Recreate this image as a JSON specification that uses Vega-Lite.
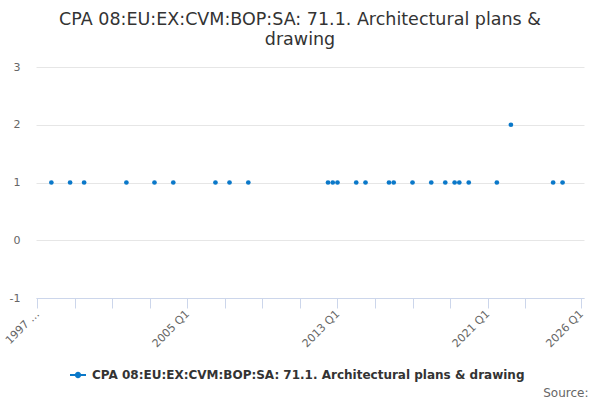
{
  "$schema": "https://vega.github.io/schema/vega-lite/v6.json",
  "autosize": {"type": "none"},
  "width": 548,
  "height": 231,
  "padding": {"left": 36, "top": 67, "right": 16, "bottom": 102},
  "background": "#ffffff",
  "title": {
    "text": ["CPA 08:EU:EX:CVM:BOP:SA: 71.1. Architectural plans &", "drawing"],
    "anchor": "middle",
    "frame": "group",
    "dx": -10,
    "offset": 13,
    "fontSize": 17.5,
    "fontWeight": "normal",
    "font": "DejaVu Sans",
    "color": "#333333",
    "lineHeight": 20
  },
  "data": {
    "values": [
      {"date": "1997-10-01", "value": 1},
      {"date": "1998-10-01", "value": 1},
      {"date": "1999-07-01", "value": 1},
      {"date": "2001-10-01", "value": 1},
      {"date": "2003-04-01", "value": 1},
      {"date": "2004-04-01", "value": 1},
      {"date": "2006-07-01", "value": 1},
      {"date": "2007-04-01", "value": 1},
      {"date": "2008-04-01", "value": 1},
      {"date": "2012-07-01", "value": 1},
      {"date": "2012-10-01", "value": 1},
      {"date": "2013-01-01", "value": 1},
      {"date": "2014-01-01", "value": 1},
      {"date": "2014-07-01", "value": 1},
      {"date": "2015-10-01", "value": 1},
      {"date": "2016-01-01", "value": 1},
      {"date": "2017-01-01", "value": 1},
      {"date": "2018-01-01", "value": 1},
      {"date": "2018-10-01", "value": 1},
      {"date": "2019-04-01", "value": 1},
      {"date": "2019-07-01", "value": 1},
      {"date": "2020-01-01", "value": 1},
      {"date": "2021-07-01", "value": 1},
      {"date": "2022-04-01", "value": 2},
      {"date": "2024-07-01", "value": 1},
      {"date": "2025-01-01", "value": 1}
    ]
  },
  "mark": {"type": "point", "filled": true, "opacity": 1, "size": 22, "shape": "circle"},
  "encoding": {
    "x": {
      "field": "date",
      "type": "temporal",
      "scale": {
        "domain": [
          {"year": 1996, "month": 12, "date": 6, "utc": true},
          {"year": 2026, "month": 2, "date": 22, "utc": true}
        ]
      },
      "axis": {
        "title": "Source:",
        "titleAnchor": "end",
        "titleAlign": "right",
        "titleBaseline": "middle",
        "titleX": 552,
        "titleY": 94,
        "titleFontSize": 12,
        "titleFontWeight": "normal",
        "titleColor": "#666666",
        "titleFont": "DejaVu Sans",
        "values": [
          {"year": 1997, "month": 1, "date": 1, "utc": true},
          {"year": 1999, "month": 1, "date": 1, "utc": true},
          {"year": 2001, "month": 1, "date": 1, "utc": true},
          {"year": 2003, "month": 1, "date": 1, "utc": true},
          {"year": 2005, "month": 1, "date": 1, "utc": true},
          {"year": 2007, "month": 1, "date": 1, "utc": true},
          {"year": 2009, "month": 1, "date": 1, "utc": true},
          {"year": 2011, "month": 1, "date": 1, "utc": true},
          {"year": 2013, "month": 1, "date": 1, "utc": true},
          {"year": 2015, "month": 1, "date": 1, "utc": true},
          {"year": 2017, "month": 1, "date": 1, "utc": true},
          {"year": 2019, "month": 1, "date": 1, "utc": true},
          {"year": 2021, "month": 1, "date": 1, "utc": true},
          {"year": 2023, "month": 1, "date": 1, "utc": true},
          {"year": 2026, "month": 1, "date": 1, "utc": true}
        ],
        "labelExpr": "utcyear(datum.value) == 1997 ? '1997 …' : (indexof([2005, 2013, 2021, 2026], utcyear(datum.value)) >= 0 ? utcyear(datum.value) + ' Q1' : '')",
        "labelAngle": -45,
        "labelAlign": "right",
        "labelBaseline": "middle",
        "labelPadding": 4,
        "labelFontSize": 11,
        "labelColor": "#666666",
        "labelFont": "DejaVu Sans",
        "labelOverlap": false,
        "labelFlush": false,
        "grid": false,
        "domainColor": "#ccd6eb",
        "tickColor": "#ccd6eb",
        "tickSize": 10
      }
    },
    "y": {
      "field": "value",
      "type": "quantitative",
      "scale": {"domain": [-1, 3], "nice": false, "zero": false},
      "axis": {
        "title": null,
        "values": [-1, 0, 1, 2, 3],
        "labelExpr": "toString(datum.value)",
        "domain": false,
        "ticks": false,
        "labelPadding": 16,
        "labelFontSize": 11,
        "labelColor": "#666666",
        "labelFont": "DejaVu Sans",
        "gridColor": "#e6e6e6",
        "grid": true
      }
    },
    "color": {
      "datum": "CPA 08:EU:EX:CVM:BOP:SA: 71.1. Architectural plans & drawing",
      "type": "nominal",
      "scale": {"range": ["#0a78c9"]},
      "legend": {
        "title": null,
        "orient": "none",
        "legendX": 33,
        "legendY": 299,
        "padding": 0,
        "symbolType": "M-1,0L1,0M0.27,0A0.27,0.27,0,1,1,-0.27,0A0.27,0.27,0,1,1,0.27,0Z",
        "symbolSize": 256,
        "symbolStrokeWidth": 2,
        "symbolStrokeColor": "#0a78c9",
        "symbolFillColor": "#0a78c9",
        "symbolOpacity": 1,
        "labelFontSize": 12,
        "labelFontWeight": "bold",
        "labelColor": "#333333",
        "labelFont": "DejaVu Sans",
        "labelLimit": 600,
        "labelOffset": 5
      }
    }
  },
  "config": {
    "view": {"stroke": null},
    "font": "DejaVu Sans"
  }
}
